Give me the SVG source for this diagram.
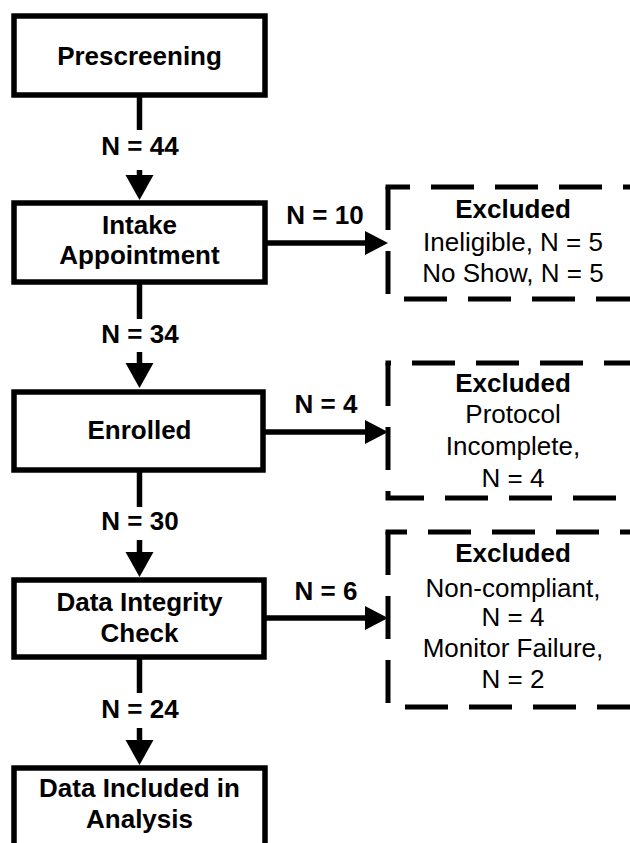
<svg xmlns="http://www.w3.org/2000/svg" width="630" height="843" viewBox="0 0 630 843">
<style>
.box{fill:#fff;stroke:#000;stroke-width:5.5}
.dash{fill:none;stroke:#000;stroke-width:5;stroke-dasharray:43 21}
.ln{fill:none;stroke:#000;stroke-width:5.5}
.ah{fill:#000}
text{font-family:"Liberation Sans",Arial,sans-serif;font-size:26px;fill:#000;text-anchor:middle}
.b{font-weight:bold}
</style>
<rect width="630" height="843" fill="#fff"/>
<g id="connectors">
<line class="ln" x1="139.5" y1="95" x2="139.5" y2="130"/>
<text class="b" x="140" y="155">N = 44</text>
<line class="ln" x1="139.5" y1="170" x2="139.5" y2="177"/>
<polygon class="ah" points="125.5,175 153.5,175 139.5,200"/>
<line class="ln" x1="139.5" y1="282" x2="139.5" y2="319"/>
<text class="b" x="140" y="343">N = 34</text>
<line class="ln" x1="139.5" y1="352" x2="139.5" y2="365"/>
<polygon class="ah" points="125.5,363 153.5,363 139.5,388"/>
<line class="ln" x1="139.5" y1="470" x2="139.5" y2="507"/>
<text class="b" x="140" y="530">N = 30</text>
<line class="ln" x1="139.5" y1="540" x2="139.5" y2="554"/>
<polygon class="ah" points="125.5,552 153.5,552 139.5,577"/>
<line class="ln" x1="139.5" y1="657" x2="139.5" y2="693"/>
<text class="b" x="140" y="718">N = 24</text>
<line class="ln" x1="139.5" y1="728" x2="139.5" y2="742"/>
<polygon class="ah" points="125.5,740 153.5,740 139.5,765"/>
<line class="ln" x1="265" y1="243" x2="367" y2="243"/>
<polygon class="ah" points="365,231 365,255 388,243"/>
<text class="b" x="325" y="224">N = 10</text>
<line class="ln" x1="263" y1="432" x2="367" y2="432"/>
<polygon class="ah" points="365,420 365,444 388,432"/>
<text class="b" x="326" y="413">N = 4</text>
<line class="ln" x1="264" y1="618" x2="367" y2="618"/>
<polygon class="ah" points="365,606 365,630 388,618"/>
<text class="b" x="326" y="600">N = 6</text>
</g>
<g id="prescreening">
<rect class="box" x="14" y="16" width="251" height="79"/>
<text class="b" x="139.5" y="65">Prescreening</text>
</g>
<g id="intake">
<rect class="box" x="14" y="203" width="251" height="79"/>
<text class="b" x="139.5" y="234">Intake</text>
<text class="b" x="139.5" y="264">Appointment</text>
</g>
<g id="enrolled">
<rect class="box" x="14" y="392" width="249" height="78"/>
<text class="b" x="139.5" y="439">Enrolled</text>
</g>
<g id="integrity">
<rect class="box" x="14" y="580" width="250" height="77"/>
<text class="b" x="139.5" y="611">Data Integrity</text>
<text class="b" x="139.5" y="642">Check</text>
</g>
<g id="included">
<rect class="box" x="14" y="768" width="251" height="100"/>
<text class="b" x="139.5" y="797">Data Included in</text>
<text class="b" x="139.5" y="828">Analysis</text>
</g>
<g id="excluded1">
<path class="dash" d="M388,187 V299 H660"/>
<path class="dash" d="M385.5,187 H660" stroke-dashoffset="18.5"/>
<text class="b" x="513" y="218">Excluded</text>
<text x="513" y="251">Ineligible, N = 5</text>
<text x="513" y="282">No Show, N = 5</text>
</g>
<g id="excluded2">
<path class="dash" d="M388,363 V498 H660"/>
<path class="dash" d="M385.5,363 H660" stroke-dashoffset="37.5"/>
<text class="b" x="513" y="392">Excluded</text>
<text x="513" y="423">Protocol</text>
<text x="513" y="455">Incomplete,</text>
<text x="513" y="487">N = 4</text>
</g>
<g id="excluded3">
<path class="dash" d="M388,532 V707 H660"/>
<path class="dash" d="M385.5,532 H660" stroke-dashoffset="21.5"/>
<text class="b" x="513" y="562">Excluded</text>
<text x="513" y="597">Non-compliant,</text>
<text x="513" y="626">N = 4</text>
<text x="513" y="657">Monitor Failure,</text>
<text x="513" y="688">N = 2</text>
</g>
</svg>
